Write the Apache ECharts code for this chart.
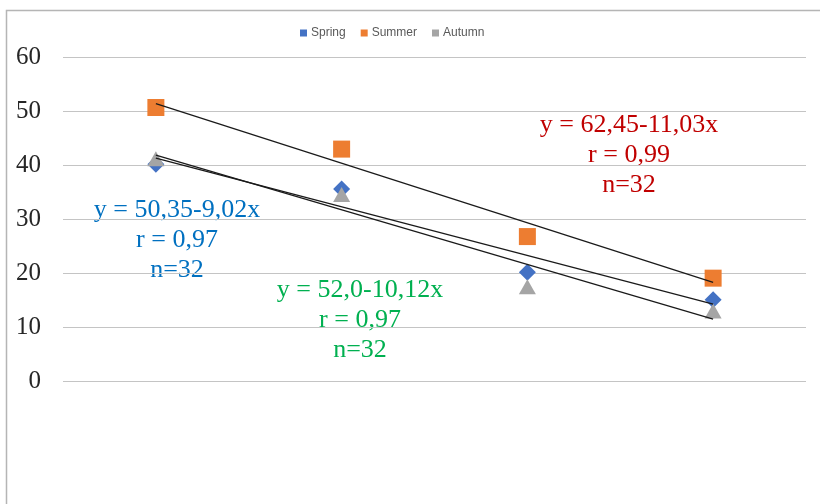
<!DOCTYPE html>
<html>
<head>
<meta charset="utf-8">
<script src="https://cdn.jsdelivr.net/npm/echarts@6/dist/echarts.min.js"></script>
<style>
  html, body { margin: 0; padding: 0; background: #ffffff; }
  #chart { width: 820px; height: 504px; }
</style>
</head>
<body>
<div id="chart"></div>
<script>
// Sampling periods along the x axis (1..4)
const categories = ['1', '2', '3', '4'];

// Seasonal measurements
const springValues = [40.2, 35.6, 20.2, 15.1];
const summerValues = [50.7, 43.0, 26.8, 19.1];
const autumnValues = [41.2, 34.6, 17.5, 13.0];

// Linear fits y = a + b*x, as printed in the equation labels
const fitNames = ['Spring', 'Summer', 'Autumn'];
const fitIntercepts = [50.35, 62.45, 52.0];
const fitSlopes = [-9.02, -11.03, -10.12];
const fitLabels = [
  'y = 50,35-9,02x\nr = 0,97\nn=32',
  'y = 62,45-11,03x\nr = 0,99\nn=32',
  'y = 52,0-10,12x\nr = 0,97\nn=32'
];

// Y axis ticks
const yTicks = [0, 10, 20, 30, 40, 50, 60];

// Each fit is drawn between the first and last period
const fitLines = fitIntercepts.map((a, i) => {
  const b = fitSlopes[i];
  return categories.map((c, k) => (k === 0 || k === categories.length - 1) ? +(a + b * (k + 1)).toFixed(2) : null);
});

const chart = echarts.init(document.getElementById('chart'), null, { renderer: 'canvas' });

const annotationFont = '26px "Liberation Serif"';

const option = {
  backgroundColor: '#ffffff',
  animation: false,
  legend: {
    left: 295,
    top: 22,
    itemWidth: 7,
    itemHeight: 7,
    itemGap: 15,
    icon: 'rect',
    data: ['Spring', 'Summer', 'Autumn'],
    textStyle: { fontFamily: 'Liberation Sans', fontSize: 12, color: '#595959', padding: [0, 0, 0, -1] }
  },
  grid: { left: 63, right: 14, top: 57.3, bottom: 122.7, containLabel: false },
  xAxis: {
    type: 'category',
    data: categories,
    boundaryGap: true,
    axisLine: { show: false },
    axisTick: { show: false },
    axisLabel: { show: false }
  },
  yAxis: {
    type: 'value',
    min: yTicks[0],
    max: yTicks[yTicks.length - 1],
    interval: 10,
    axisLine: { show: false },
    axisTick: { show: false },
    axisLabel: { fontFamily: 'Liberation Serif', fontSize: 25, color: '#262626', margin: 22 },
    splitLine: { lineStyle: { color: '#c4c4c4', width: 1.2 } }
  },
  graphic: [
    {
      type: 'rect', silent: true, z: -1,
      shape: { x: 6.5, y: 10.5, width: 900, height: 600 },
      style: { fill: 'none', stroke: '#b5b5b5', lineWidth: 1.5 }
    },
    {
      type: 'text', x: 177, y: 195,
      style: { text: fitLabels[0], fill: '#0070C0', font: annotationFont, align: 'center', lineHeight: 30 }
    },
    {
      type: 'text', x: 629, y: 110,
      style: { text: fitLabels[1], fill: '#C00000', font: annotationFont, align: 'center', lineHeight: 30 }
    },
    {
      type: 'text', x: 360, y: 275,
      style: { text: fitLabels[2], fill: '#00B050', font: annotationFont, align: 'center', lineHeight: 30 }
    }
  ],
  series: [
    {
      name: 'Spring', type: 'scatter', data: springValues,
      symbol: 'diamond', symbolSize: [17, 17],
      itemStyle: { color: '#4472C4', opacity: 1 }, z: 2
    },
    {
      name: 'Summer', type: 'scatter', data: summerValues,
      symbol: 'rect', symbolSize: [17, 17],
      itemStyle: { color: '#ED7D31', opacity: 1 }, z: 2
    },
    {
      name: 'Autumn', type: 'scatter', data: autumnValues,
      symbol: 'triangle', symbolSize: [17, 15],
      itemStyle: { color: '#A5A5A5', opacity: 1 }, z: 3
    },
    ...fitLines.map((vals, i) => ({
      name: fitNames[i] + ' fit', type: 'line', data: vals,
      connectNulls: true, showSymbol: false, symbol: 'none',
      lineStyle: { color: '#1a1a1a', width: 1.3 }, z: 4,
      silent: true
    }))
  ]
};

chart.setOption(option);
</script>
</body>
</html>
